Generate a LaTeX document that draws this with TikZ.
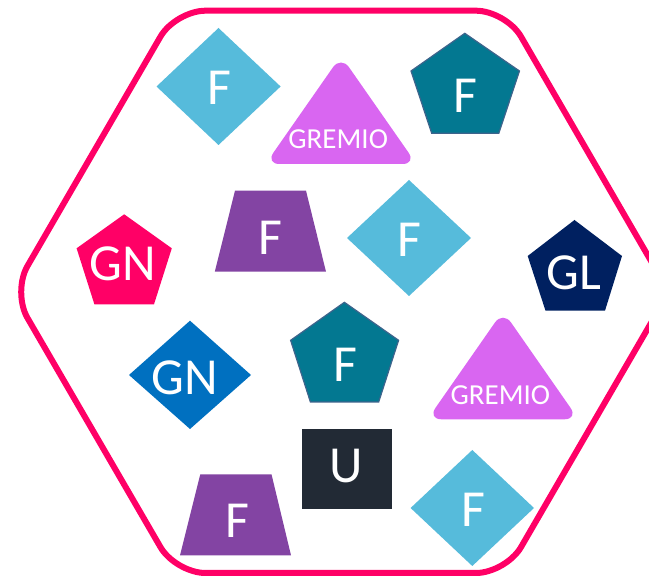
\documentclass[tikz,border=0pt]{standalone}
\usepackage{fontspec}
\setmainfont{Carlito}
\definecolor{hexpink}{RGB}{255,0,102}
\definecolor{lblue}{RGB}{86,187,219}
\definecolor{violetT}{RGB}{217,102,241}
\definecolor{tealP}{RGB}{3,120,145}
\definecolor{tealB}{RGB}{62,100,140}
\definecolor{purpT}{RGB}{131,68,163}
\definecolor{navyP}{RGB}{0,32,96}
\definecolor{blueD}{RGB}{0,112,192}
\definecolor{darkU}{RGB}{34,42,53}
\begin{document}
\begin{tikzpicture}[x=1pt,y=-1pt,
  lbl/.style={text=white,inner sep=0pt,font=\fontsize{52}{52}\selectfont},
  glbl/.style={text=white,inner sep=0pt,font=\fontsize{29}{29}\selectfont},
  tri/.style={fill=violetT,rounded corners=14pt},
  pent/.style={fill=tealP,draw=tealB,line width=1.2pt},
  hexline/.style={draw=hexpink,line width=6pt,rounded corners=30pt}]
\useasboundingbox (0,0) rectangle (649,577);
% hexagon frame
\path[hexline] (340,10.7) -- (506,10.7) -- (669,292) -- (506,573) -- (175.5,573) -- (12.4,292) -- (175.5,10.7) -- cycle;
% diamonds
\fill[lblue] (218.5,28) -- (280.6,86.5) -- (218.5,145) -- (156.5,86.5) -- cycle;
\fill[lblue] (409,180) -- (471,238) -- (409,296) -- (347,238) -- cycle;
\fill[blueD] (190,320.7) -- (251,375) -- (190,429) -- (129,375) -- cycle;
\fill[lblue] (472.3,450) -- (534,508) -- (472.3,566) -- (410.6,508) -- cycle;
% triangles
\path[tri] (341,55.8) -- (416.5,164) -- (265.5,164) -- cycle;
\path[tri] (503,311) -- (578.5,419.3) -- (427.5,419.3) -- cycle;
% pentagons
\path[pent] (464.8,33.3) -- (519.5,71) -- (498.8,133.3) -- (431.7,133.3) -- (411,71) -- cycle;
\fill[hexpink] (124.2,214.3) -- (171.8,248.3) -- (154,304.3) -- (94.4,304.3) -- (76.6,248.3) -- cycle;
\fill[navyP] (574.5,220) -- (622,256) -- (605,310.7) -- (545.5,310.7) -- (527.7,256) -- cycle;
\path[pent] (344.4,302.3) -- (398.6,340.3) -- (378.7,402) -- (310.4,402) -- (290.6,340.3) -- cycle;
% trapezoids
\fill[purpT] (235,190.7) -- (306,190.7) -- (326,271.7) -- (214.8,271.7) -- cycle;
\fill[purpT] (200.3,474.3) -- (271.5,474.3) -- (291,555.3) -- (180,555.3) -- cycle;
% square
\fill[darkU] (302,429) rectangle (392.4,508.7);
% labels
\node[lbl] (f1) at (219,87.7) {F};
\node[glbl] (g1) at (338.2,138.8) {GREMIO};
\node[lbl] (f2) at (465.5,96.3) {F};
\node[lbl] (f3) at (270.5,237.8) {F};
\node[lbl] (f4) at (409.3,240) {F};
\node[lbl] (gn1) at (123,264) {GN};
\node[lbl] (gl) at (574,272.5) {GL};
\node[lbl] (gn2) at (185,377.8) {GN};
\node[lbl] (f5) at (345,365) {F};
\node[glbl] (g2) at (500.4,394.7) {GREMIO};
\node[lbl] (u) at (346,465.8) {U};
\node[lbl] (f6) at (237,520.7) {F};
\node[lbl] (f7) at (473.5,510) {F};
\end{tikzpicture}
\end{document}
